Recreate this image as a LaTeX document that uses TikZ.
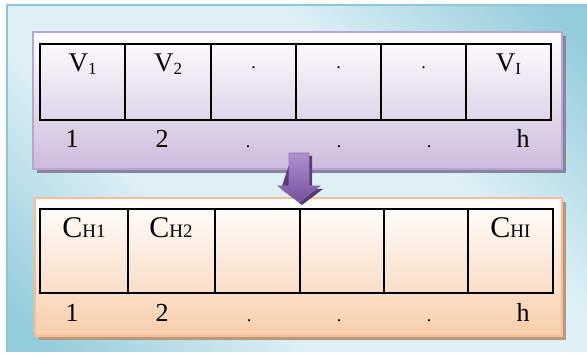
\documentclass[tikz,border=0pt]{standalone}
\usepackage{fontspec}
\setmainfont{Liberation Serif}
\usetikzlibrary{calc}
\definecolor{outerB}{RGB}{140,200,215}
\definecolor{outerL}{RGB}{222,240,245}
\definecolor{outerD}{RGB}{146,203,218}
\definecolor{purB}{RGB}{185,165,210}
\definecolor{purF}{RGB}{205,188,220}
\definecolor{purS}{RGB}{138,132,158}
\definecolor{orB}{RGB}{245,190,150}
\definecolor{orF}{RGB}{248,206,172}
\definecolor{orS}{RGB}{188,152,122}
\definecolor{arT}{RGB}{175,145,205}
\definecolor{arB}{RGB}{118,80,160}
\definecolor{arS}{RGB}{88,60,118}
\pgfdeclareverticalshading{bgsh}{100bp}{color(0bp)=(outerD); color(17bp)=(outerD); color(38bp)=(outerL); color(62bp)=(outerL); color(83bp)=(outerD); color(100bp)=(outerD)}
\tikzset{
  bigtxt/.style={inner sep=0pt, anchor=base, font=\fontsize{26}{26}\selectfont},
  vtxt/.style={inner sep=0pt, anchor=base, font=\fontsize{27}{27}\selectfont},
  ctxt/.style={inner sep=0pt, anchor=base, font=\fontsize{30}{30}\selectfont},
  dottxt/.style={inner sep=0pt, anchor=base, font=\fontsize{18}{18}\selectfont},
  tabline/.style={line width=1.4pt, black},
}
\newcommand{\vsub}[2]{#1\raisebox{-3pt}{\fontsize{17}{17}\selectfont #2}}
\newcommand{\csub}[2]{#1{\fontsize{19}{19}\selectfont #2}}
\begin{document}
\begin{tikzpicture}[x=1pt,y=-1pt]
\useasboundingbox (0,0) rectangle (587,355);
% outer panel
\shade[shading=bgsh, shading angle=-45] (7,5) rectangle (587,352);
\draw[outerB, line width=1.8pt] (7,352) -- (7,5) -- (587,5);
% upper panel
\fill[purS] (37,36) rectangle (566,173);
\shade[top color=white, bottom color=purF] (33,32) rectangle (562,169);
\draw[purB, line width=1.6pt] (33,32) rectangle (562,169);
\draw[tabline] (40,44) rectangle (551,120);
\foreach \x in {125,211,296,381,466} \draw[tabline] (\x,44) -- (\x,120);
\node[vtxt] (v1) at (82.5,72) {\vsub{V}{1}};
\node[vtxt] (v2) at (168,72) {\vsub{V}{2}};
\node[dottxt] (vd1) at (253.5,69) {.};
\node[dottxt] (vd2) at (338.5,69) {.};
\node[dottxt] (vd3) at (423.5,69) {.};
\node[vtxt] (vI) at (508.5,72) {\vsub{V}{I}};
\node[bigtxt] (u1) at (72,148) {1};
\node[bigtxt] (u2) at (162,148) {2};
\node[dottxt] (ud1) at (248,148) {.};
\node[dottxt] (ud2) at (339,148) {.};
\node[dottxt] (ud3) at (429,148) {.};
\node[bigtxt] (uh) at (523,148) {h};
% lower panel
\fill[orS] (39,202) rectangle (566,340);
\shade[top color=white, bottom color=orF] (35,198) rectangle (562,336);
\draw[orB, line width=1.6pt] (35,198) rectangle (562,336);
\draw[tabline] (40,209) rectangle (553,293);
\foreach \x in {128,215,300,384,468} \draw[tabline] (\x,209) -- (\x,293);
\node[ctxt] (c1) at (84,238) {\csub{C}{H1}};
\node[ctxt] (c2) at (171,238) {\csub{C}{H2}};
\node[ctxt] (cI) at (510.5,238) {\csub{C}{HI}};
\node[bigtxt] (l1) at (72,322) {1};
\node[bigtxt] (l2) at (162,322) {2};
\node[dottxt] (ld1) at (249,322) {.};
\node[dottxt] (ld2) at (339,322) {.};
\node[dottxt] (ld3) at (429,322) {.};
\node[bigtxt] (lh) at (523,322) {h};
% arrow
\coordinate (atop) at (299,153);
\coordinate (atip) at (299,202);
\fill[arS] ($(atop)+(-7,3)$) -- ($(atop)+(13,3)$) -- ($(atop)+(13,36)$) -- ($(atop)+(24,36)$) -- ($(atip)+(3,3)$) -- ($(atop)+(-18,36)$) -- cycle;
\shade[top color=arT, bottom color=arB] ($(atop)+(-10,0)$) -- ($(atop)+(10,0)$) -- ($(atop)+(10,33)$) -- ($(atop)+(21,33)$) -- (atip) -- ($(atop)+(-21,33)$) -- ($(atop)+(-10,33)$) -- cycle;
\draw[arB!80!white, line width=0.6pt] ($(atop)+(-10,0)$) -- ($(atop)+(10,0)$) -- ($(atop)+(10,33)$) -- ($(atop)+(21,33)$) -- (atip) -- ($(atop)+(-21,33)$) -- ($(atop)+(-10,33)$) -- cycle;
\end{tikzpicture}
\end{document}
